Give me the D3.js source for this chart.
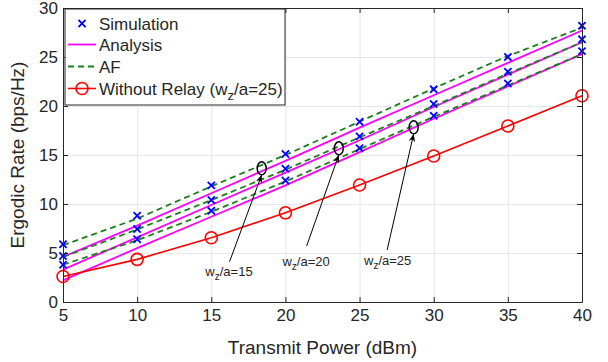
<!DOCTYPE html>
<html>
<head>
<meta charset="utf-8">
<script src="https://cdn.jsdelivr.net/npm/d3@7"></script>
<style>
  body { margin: 0; background: #fff; }
  text { font-family: "Liberation Sans", Arial, sans-serif; fill: #262626; }
</style>
</head>
<body>
<svg id="chart" width="608" height="362"></svg>
<script>
// Transmit power grid (dBm)
const powerDbm = [5, 10, 15, 20, 25, 30, 35, 40];

// Simulated ergodic rate (bps/Hz) for each w_z/a
const simWz15 = [5.9, 8.8, 11.9, 15.1, 18.4, 21.7, 25.0, 28.2];
const simWz20 = [4.7, 7.45, 10.4, 13.6, 16.9, 20.2, 23.5, 26.8];
const simWz25 = [3.8, 6.4, 9.3, 12.4, 15.7, 19.0, 22.3, 25.6];

// Analytical ergodic rate
const anaWz15 = [4.6, 7.8, 11.1, 14.4, 17.8, 21.1, 24.4, 27.7];
const anaWz20 = [3.3, 6.6, 9.9, 13.2, 16.5, 19.9, 23.2, 26.5];
const anaWz25 = [2.2, 5.5, 8.7, 11.9, 15.3, 18.7, 22.0, 25.3];

// Amplify-and-forward benchmark
const afWz15 = [5.8, 8.5, 11.8, 15.0, 18.4, 21.8, 25.1, 28.0];
const afWz20 = [4.6, 7.4, 10.4, 13.5, 16.8, 20.0, 23.3, 26.5];
const afWz25 = [3.8, 6.3, 9.2, 12.3, 15.6, 18.9, 22.1, 25.3];

// Direct link without relay (w_z/a = 25)
const noRelay = [2.6, 4.35, 6.56, 9.1, 11.94, 14.9, 17.96, 21.05];

// Axis ticks
const xTicks = [5, 10, 15, 20, 25, 30, 35, 40];
const yTicks = [0, 5, 10, 15, 20, 25, 30];

// Annotation callouts: circled point, arrow tail and label anchor (data units)
const callouts = [
  { label: "15", at: [18.4, 13.64], tail: [16.23, 4.11], text: [14.6, 2.65] },
  { label: "20", at: [23.6, 15.68], tail: [21.43, 5.71], text: [19.8, 3.65] },
  { label: "25", at: [28.65, 17.83], tail: [26.86, 5.31], text: [25.3, 3.75] }
];

const svg = d3.select("#chart");
svg.append("rect").attr("width", 608).attr("height", 362).attr("fill", "#fff");

const pL = 63, pR = 582, pT = 8, pB = 302;
const x = d3.scaleLinear().domain([5, 40]).range([pL, pR]);
const y = d3.scaleLinear().domain([0, 30]).range([pB, pT]);

const axisColor = "#262626";
const gridColor = "#e6e6e6";

// Grid
const grid = svg.append("g");
grid.append("g").attr("transform", `translate(0,${pB})`)
  .call(d3.axisBottom(x).tickValues(xTicks).tickSize(-(pB - pT)).tickFormat(""))
  .call(g => g.select(".domain").remove())
  .call(g => g.selectAll("line").attr("stroke", gridColor).attr("stroke-width", 1));
grid.append("g").attr("transform", `translate(${pL},0)`)
  .call(d3.axisLeft(y).tickValues(yTicks).tickSize(-(pR - pL)).tickFormat(""))
  .call(g => g.select(".domain").remove())
  .call(g => g.selectAll("line").attr("stroke", gridColor).attr("stroke-width", 1));

const line = d3.line().x((d, i) => x(powerDbm[i])).y(d => y(d));
const plot = svg.append("g");

// Analysis curves
[anaWz15, anaWz20, anaWz25].forEach(s => {
  plot.append("path").attr("d", line(s)).attr("fill", "none")
    .attr("stroke", "#ff00ff").attr("stroke-width", 1.8);
});

// AF curves
[afWz15, afWz20, afWz25].forEach(s => {
  plot.append("path").attr("d", line(s)).attr("fill", "none")
    .attr("stroke", "#1a801a").attr("stroke-width", 1.8)
    .attr("stroke-dasharray", "6,4");
});

// Without relay
plot.append("path").attr("d", line(noRelay)).attr("fill", "none")
  .attr("stroke", "#ff0000").attr("stroke-width", 1.6);
plot.selectAll("circle.nr").data(noRelay).join("circle").attr("class", "nr")
  .attr("cx", (d, i) => x(powerDbm[i])).attr("cy", d => y(d)).attr("r", 6)
  .attr("fill", "none").attr("stroke", "#ff0000").attr("stroke-width", 1.6);

// Simulation markers
const cross = (g, cx, cy, s) => {
  g.append("path")
    .attr("d", `M${cx - s},${cy - s}L${cx + s},${cy + s}M${cx - s},${cy + s}L${cx + s},${cy - s}`)
    .attr("stroke", "#0000ff").attr("stroke-width", 1.8).attr("fill", "none");
};
[simWz15, simWz20, simWz25].forEach(s => {
  s.forEach((v, i) => cross(plot, x(powerDbm[i]), y(v), 3.6));
});

// Axes box with inward ticks
const axes = svg.append("g");
const fontTick = "17px";
axes.append("g").attr("transform", `translate(0,${pB})`)
  .call(d3.axisBottom(x).tickValues(xTicks).tickSizeInner(-5).tickSizeOuter(0).tickPadding(7))
  .call(g => g.selectAll("text").style("font-size", fontTick).attr("fill", axisColor));
axes.append("g").attr("transform", `translate(0,${pT})`)
  .call(d3.axisTop(x).tickValues(xTicks).tickSizeInner(-5).tickSizeOuter(0).tickFormat(""));
axes.append("g").attr("transform", `translate(${pL},0)`)
  .call(d3.axisLeft(y).tickValues(yTicks).tickSizeInner(-5).tickSizeOuter(0).tickPadding(5))
  .call(g => g.selectAll("text").style("font-size", fontTick).attr("fill", axisColor));
axes.append("g").attr("transform", `translate(${pR},0)`)
  .call(d3.axisRight(y).tickValues(yTicks).tickSizeInner(-5).tickSizeOuter(0).tickFormat(""));
axes.selectAll(".domain, line").attr("stroke", axisColor).attr("stroke-width", 1);

// Axis titles
svg.append("text").attr("x", (pL + pR) / 2).attr("y", 354)
  .attr("text-anchor", "middle").style("font-size", "19px").text("Transmit Power (dBm)");
svg.append("text").attr("transform", `translate(24,${(pT + pB) / 2}) rotate(-90)`)
  .attr("text-anchor", "middle").style("font-size", "19px").text("Ergodic Rate (bps/Hz)");

// Callouts
svg.append("defs").append("marker").attr("id", "arrow")
  .attr("viewBox", "0 0 10 10").attr("refX", 10).attr("refY", 5)
  .attr("markerWidth", 8).attr("markerHeight", 8).attr("orient", "auto")
  .append("path").attr("d", "M0,1L10,5L0,9L3,5Z").attr("fill", "#000");
const ann = svg.append("g");
callouts.forEach(c => {
  const cx = x(c.at[0]), cy = y(c.at[1]);
  ann.append("ellipse").attr("cx", cx).attr("cy", cy).attr("rx", 4.5).attr("ry", 6.5)
    .attr("fill", "none").attr("stroke", "#000").attr("stroke-width", 1.5);
  ann.append("line").attr("x1", x(c.tail[0])).attr("y1", y(c.tail[1]))
    .attr("x2", cx).attr("y2", cy + 6.5)
    .attr("stroke", "#000").attr("stroke-width", 1).attr("marker-end", "url(#arrow)");
  const t = ann.append("text").attr("x", x(c.text[0])).attr("y", y(c.text[1]))
    .style("font-size", "13px");
  t.append("tspan").text("w");
  t.append("tspan").attr("dy", 4).style("font-size", "10px").text("z");
  t.append("tspan").attr("dy", -4).text("/a=" + c.label);
});

// Legend
const lg = svg.append("g");
lg.append("rect").attr("x", 65).attr("y", 9).attr("width", 220).attr("height", 96)
  .attr("fill", "#fff").attr("stroke", axisColor).attr("stroke-width", 1);
const rows = [
  { name: "Simulation", y: 23.5, kind: "sim" },
  { name: "Analysis", y: 44.5, kind: "ana" },
  { name: "AF", y: 66.5, kind: "af" },
  { name: "Without Relay", y: 88.5, kind: "nr" }
];
rows.forEach(r => {
  if (r.kind === "sim") cross(lg, 82, r.y, 3.6);
  if (r.kind === "ana") lg.append("line").attr("x1", 68).attr("x2", 96).attr("y1", r.y).attr("y2", r.y)
    .attr("stroke", "#ff00ff").attr("stroke-width", 1.8);
  if (r.kind === "af") lg.append("line").attr("x1", 68).attr("x2", 96).attr("y1", r.y).attr("y2", r.y)
    .attr("stroke", "#1a801a").attr("stroke-width", 1.8).attr("stroke-dasharray", "6,4");
  if (r.kind === "nr") {
    lg.append("line").attr("x1", 68).attr("x2", 96).attr("y1", r.y).attr("y2", r.y)
      .attr("stroke", "#ff0000").attr("stroke-width", 1.6);
    lg.append("circle").attr("cx", 82).attr("cy", r.y).attr("r", 6)
      .attr("fill", "none").attr("stroke", "#ff0000").attr("stroke-width", 1.6);
  }
  const t = lg.append("text").attr("x", 99).attr("y", r.y + 6).style("font-size", "17px");
  if (r.kind === "nr") {
    t.append("tspan").text("Without Relay (w");
    t.append("tspan").attr("dy", 5).style("font-size", "13px").text("z");
    t.append("tspan").attr("dy", -5).text("/a=25)");
  } else {
    t.text(r.name);
  }
});
</script>
</body>
</html>
